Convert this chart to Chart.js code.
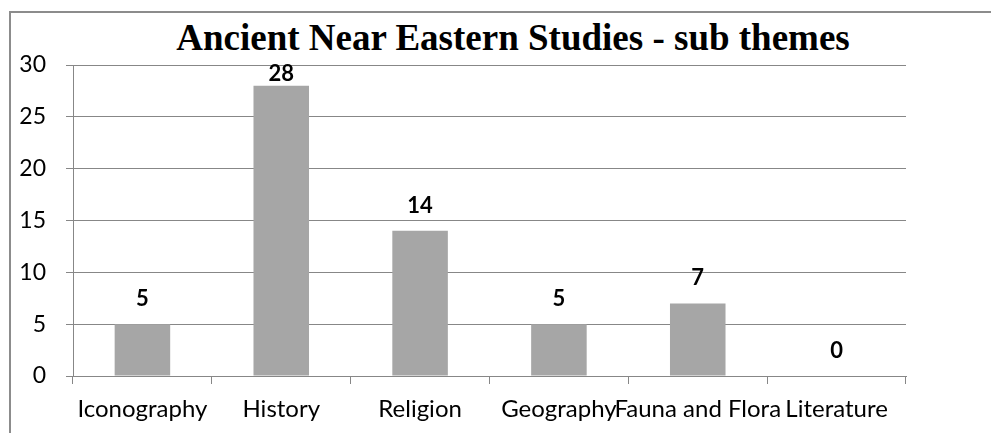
<!DOCTYPE html>
<html>
<head>
<meta charset="utf-8">
<script src="https://cdn.jsdelivr.net/npm/chart.js@4"></script>
<style>
  html, body { margin: 0; padding: 0; background: #fff; overflow: hidden; }
  #wrap { position: relative; width: 991px; height: 433px; }
  #frame { position: absolute; left: 9px; top: 11px; width: 1100px; height: 500px;
           border-left: 2px solid #8c8c8c; border-top: 2px solid #8c8c8c; }
  #title { position: absolute; left: 0; width: 1026px; top: 16px; text-align: center;
           font: bold 37px "Liberation Serif", "Times New Roman", serif; color: #000; }
  canvas { position: absolute; left: 0; top: 0; }
</style>
</head>
<body>
<div id="wrap">
  <div id="frame"></div>
  <div id="title">Ancient Near Eastern Studies - sub themes</div>
  <canvas id="chart" width="991" height="433"></canvas>
</div>
<script>
const categories = ['Iconography', 'History', 'Religion', 'Geography', 'Fauna and Flora', 'Literature'];
const counts = [5, 28, 14, 5, 7, 0];
const yTicks = [0, 5, 10, 15, 20, 25, 30];

const axisGray = '#878787';
const fontFamily = 'Lato, "Open Sans", sans-serif';

// value labels above each bar, kept inside the plot area
const barValues = {
  id: 'barValues',
  afterDatasetsDraw(chart) {
    const ctx = chart.ctx;
    const meta = chart.getDatasetMeta(0);
    const top = chart.chartArea.top;
    ctx.save();
    ctx.font = 'bold 22px ' + fontFamily;
    ctx.fillStyle = '#000';
    ctx.textAlign = 'center';
    ctx.textBaseline = 'alphabetic';
    meta.data.forEach((bar, i) => {
      const y = Math.max(bar.y - 18, top + 16);
      ctx.fillText(String(counts[i]), bar.x, y);
    });
    ctx.restore();
  }
};

new Chart(document.getElementById('chart'), {
  type: 'bar',
  data: {
    labels: categories,
    datasets: [{
      data: counts,
      backgroundColor: '#a6a6a6',
      borderWidth: 0,
      barPercentage: 0.4,
      categoryPercentage: 1.0
    }]
  },
  options: {
    responsive: false,
    animation: false,
    layout: { padding: { left: 0, right: 85, top: 65, bottom: 0 } },
    plugins: {
      legend: { display: false },
      tooltip: { enabled: false }
    },
    scales: {
      x: {
        offset: true,
        grid: { display: true, drawOnChartArea: false, drawTicks: true, tickLength: 8, color: axisGray, offset: true },
        border: { color: axisGray, width: 1 },
        ticks: { color: '#000', font: { family: fontFamily, size: 24 }, maxRotation: 0, minRotation: 0, autoSkip: false, padding: 11 },
        afterFit(scale) { scale.height = 57; }
      },
      y: {
        min: 0,
        max: 30,
        afterBuildTicks(scale) { scale.ticks = yTicks.map(v => ({ value: v })); },
        grid: { color: axisGray, tickLength: 7, lineWidth: 1 },
        border: { color: axisGray, width: 1 },
        ticks: { color: '#000', font: { family: fontFamily, size: 23 }, padding: 20 },
        afterFit(scale) { scale.width = 73; }
      }
    }
  },
  plugins: [barValues]
});
</script>
</body>
</html>
